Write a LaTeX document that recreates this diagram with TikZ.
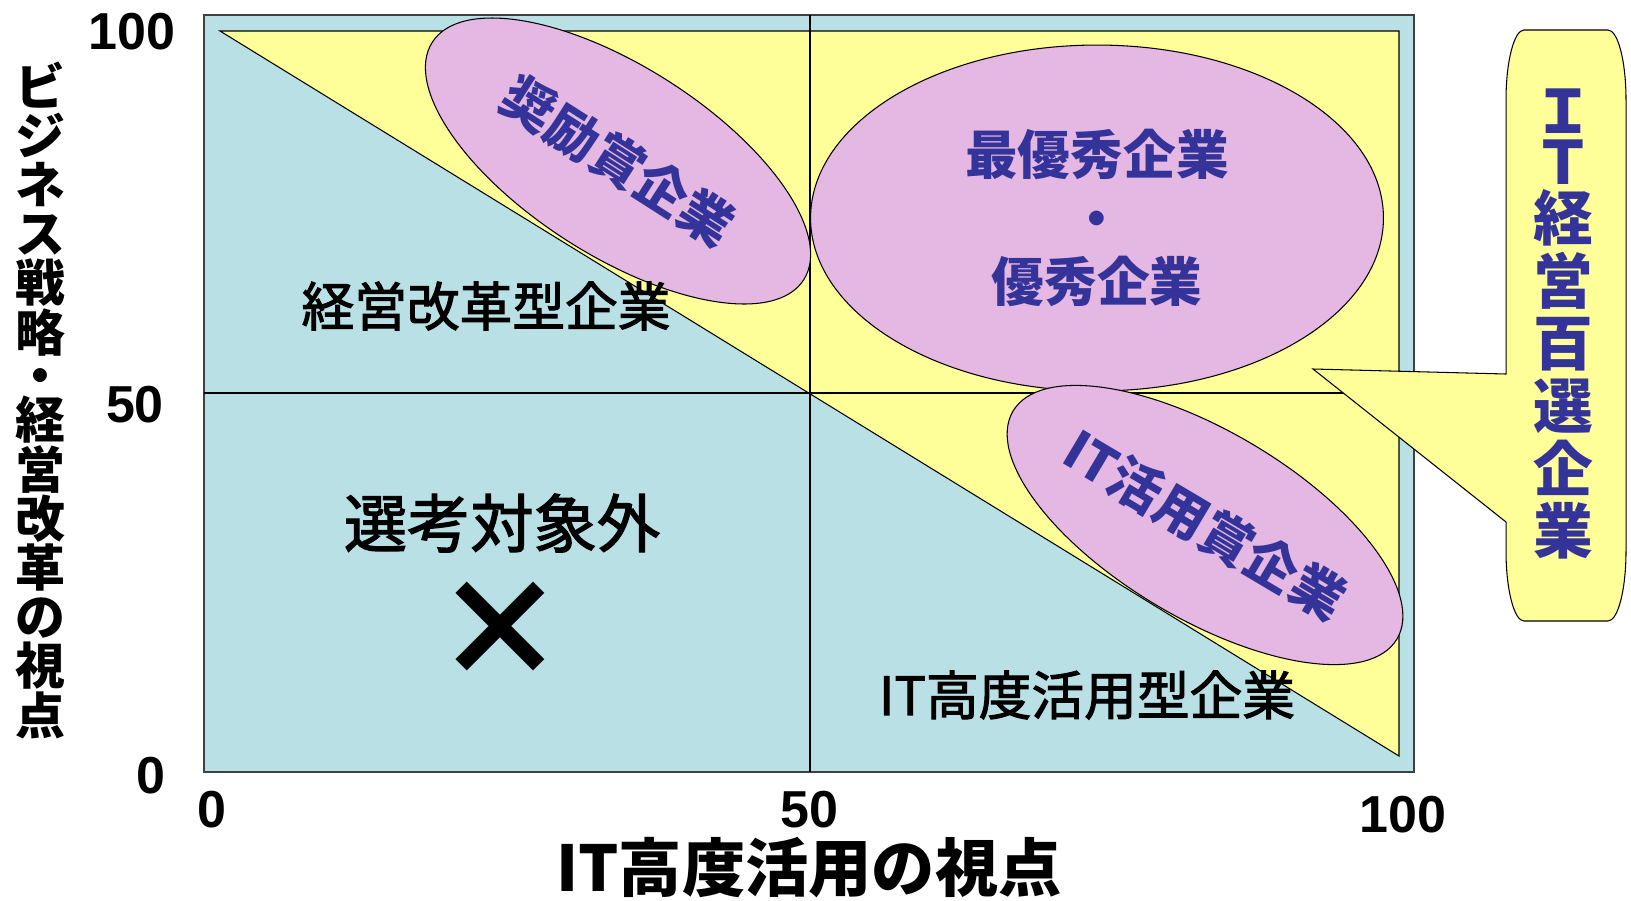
\documentclass[tikz,border=0pt]{standalone}
\usepackage{fontspec}
\setmainfont{Liberation Sans}
\newfontfamily\jp{Noto Sans CJK JP}
\newfontfamily\jpmid[FakeBold=2]{Noto Sans CJK JP}
\usepackage{tikz}
\usetikzlibrary{shapes.geometric}
\definecolor{bgblue}{RGB}{185,224,228}
\definecolor{tri}{RGB}{255,255,153}
\definecolor{pink}{RGB}{228,184,226}
\definecolor{ink}{RGB}{51,51,153}
\tikzstyle{numlab}=[font=\bfseries\fontsize{29.6}{30}\selectfont]
\tikzstyle{axlab}=[font=\jp\bfseries\fontsize{28.4}{28}\selectfont]
\tikzstyle{zone}=[font=\jpmid\fontsize{30}{32}\selectfont]
\tikzstyle{award}=[draw, fill=pink, ellipse, inner sep=0pt, text=ink, font=\jp\bfseries\fontsize{30}{36}\selectfont]

\begin{document}
\begin{tikzpicture}[x=0.02cm, y=-0.02cm, line width=0.6pt]
    \useasboundingbox (0,0) rectangle (1631,900);
    % chart area
    \draw[fill=bgblue, draw=black!75, line width=0.9pt] (204,15) rectangle (1414,772);
    \draw[fill=tri] (220,31) -- (1399,31) -- (1399,756) -- cycle;
    \draw (810,15) -- (810,772);
    \draw (204,393) -- (1414,393);
    % award groups
    \node[award, minimum width=8.82cm, minimum height=3.78cm, rotate=-32.6] (shorei) at (618,161) {奨励賞企業};
    \node[award, minimum width=11.46cm, minimum height=6.92cm, align=center] (yushu) at (1097,218) {最優秀企業\\・\\優秀企業};
    \node[award, minimum width=8.52cm, minimum height=3.75cm, rotate=-30.7] (itkatsu) at (1205,525) {IT活用賞企業};
    % zones
    \node[zone] (reform) at (486,306) {経営改革型企業};
    \node[zone] (itzone) at (1087,695) {IT高度活用型企業};
    \node[zone, font=\jpmid\fontsize{36}{40}\selectfont] (outside) at (502,523) {選考対象外};
    \node[font=\jp\bfseries\fontsize{76}{80}\selectfont] (cross) at (500,630) {×};
    % axes
    \node[numlab] (y100) at (132,32) {100};
    \node[numlab] (y50) at (135,405) {50};
    \node[numlab] (y0) at (151,776) {0};
    \node[numlab] (x0) at (212,810) {0};
    \node[numlab] (x50) at (809,810) {50};
    \node[numlab] (x100) at (1403,815) {100};
    \node[axlab, align=center] (ylab) at (40,400) {ビ\\ジ\\ネ\\ス\\戦\\略\\[-3pt]・\\[-3pt]経\\営\\改\\革\\の\\視\\点};
    \node[axlab, font=\jp\bfseries\fontsize{36}{40}\selectfont] (xlab) at (809,868) {IT高度活用の視点};
    % callout
    \draw[fill=tri] (1524,30) -- (1608,30) .. controls (1617.9,30) and (1626,61.3) .. (1626,100)
        -- (1626,551) .. controls (1626,589.7) and (1617.9,621) .. (1608,621)
        -- (1524,621) .. controls (1514.1,621) and (1506,589.7) .. (1506,551)
        -- (1506,522) -- (1313,369) -- (1506,374)
        -- (1506,100) .. controls (1506,61.3) and (1514.1,30) .. (1524,30) -- cycle;
    \node[text=ink, align=center, font=\jp\bfseries\fontsize{34}{35.7}\selectfont] (hyakusen) at (1563,324) {Ｉ\\[-6.7pt]Ｔ\\[-3.7pt]経\\営\\百\\選\\企\\業};
\end{tikzpicture}
\end{document}
